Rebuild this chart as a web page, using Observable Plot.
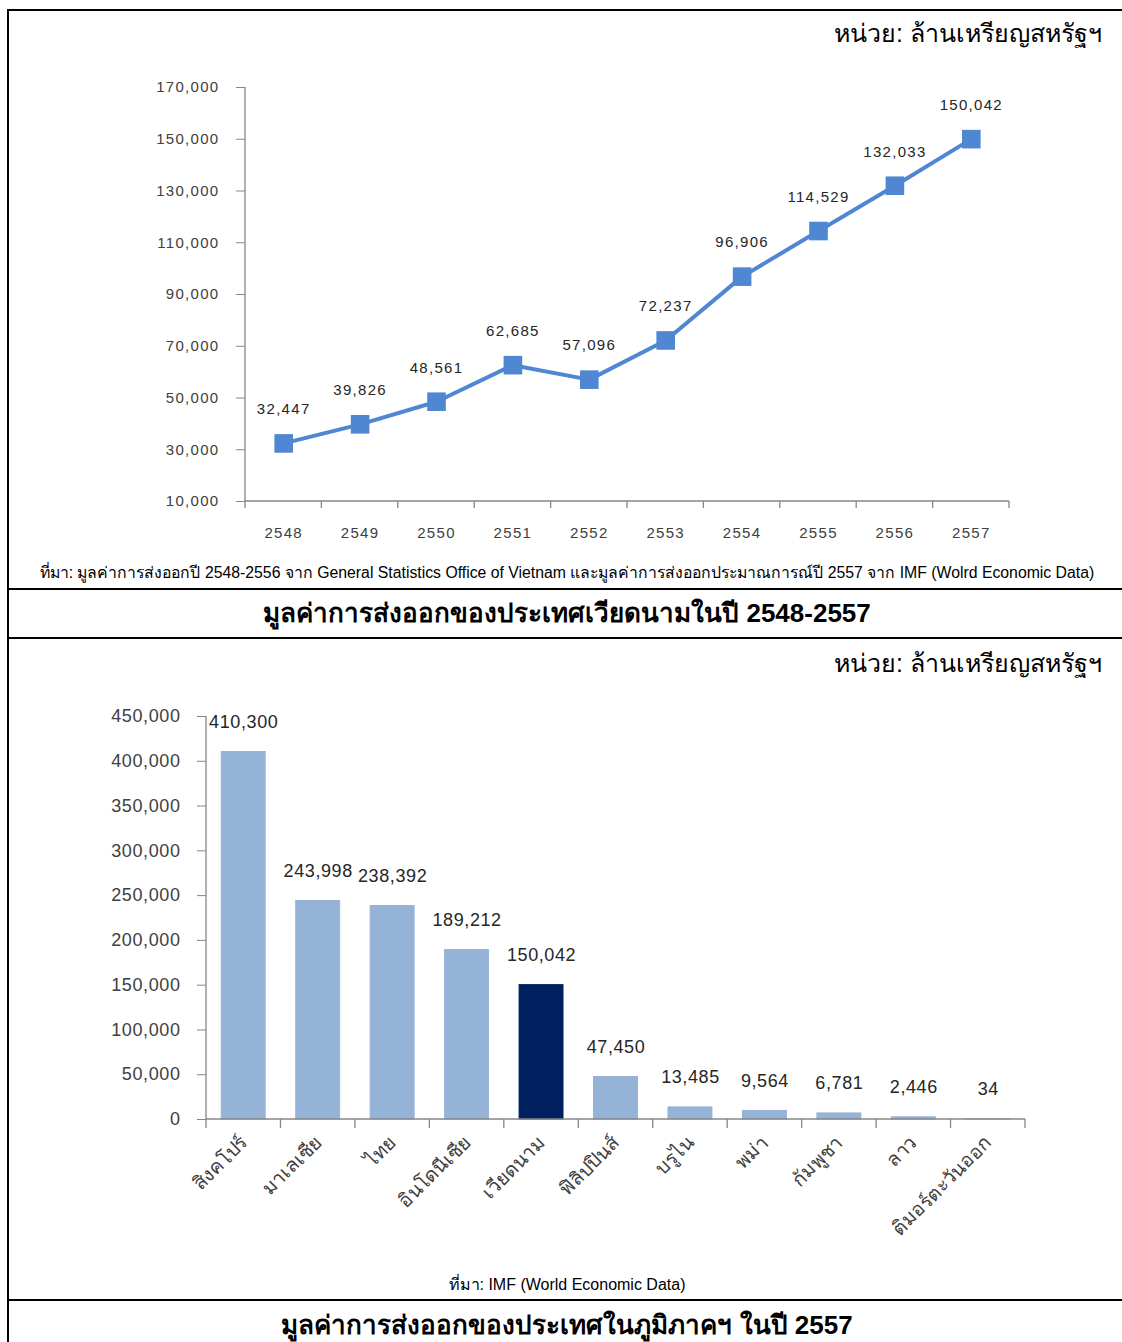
<!DOCTYPE html>
<html><head><meta charset="utf-8">
<script src="https://cdn.jsdelivr.net/npm/d3@7"></script>
<script src="https://cdn.jsdelivr.net/npm/@observablehq/plot@0.6"></script>
<style>
html,body{margin:0;padding:0;overflow:hidden;background:#fff;width:1122px;height:1342px;}
body{position:relative;font-family:"Liberation Sans",Arial,sans-serif;}
.abs{position:absolute;white-space:nowrap;}
.hr{position:absolute;left:7px;width:1200px;height:2px;background:#000;}
.unit{right:20px;font-size:25px;color:#000;line-height:30px;}
.src{left:0;width:1134px;text-align:center;font-size:15.8px;color:#000;line-height:20px;}
.title{left:0;width:1134px;text-align:center;font-size:26px;font-weight:bold;color:#000;line-height:30px;}
svg{position:absolute;left:0;}
</style></head><body>
<div class="abs" style="left:7px;top:9px;width:1200px;height:1400px;border-left:2px solid #000;border-top:2px solid #000;box-sizing:border-box"></div>
<div class="hr" style="top:588px"></div>
<div class="hr" style="top:637px"></div>
<div class="hr" style="top:1299px"></div>
<div class="abs unit" style="top:18px">หน่วย: ล้านเหรียญสหรัฐฯ</div>
<div class="abs src" style="top:563px">ที่มา: มูลค่าการส่งออกปี 2548-2556 จาก General Statistics Office of Vietnam และมูลค่าการส่งออกประมาณการณ์ปี 2557 จาก IMF (Wolrd Economic Data)</div>
<div class="abs title" style="top:598px">มูลค่าการส่งออกของประเทศเวียดนามในปี 2548-2557</div>
<div class="abs unit" style="top:648px">หน่วย: ล้านเหรียญสหรัฐฯ</div>
<div class="abs src" style="top:1275px;font-size:16px">ที่มา: IMF (World Economic Data)</div>
<div class="abs title" style="top:1310px">มูลค่าการส่งออกของประเทศในภูมิภาคฯ ในปี 2557</div>
<div id="c1"></div>
<div id="c2"></div>
<script>
// ---- Data ----
const years = ["2548","2549","2550","2551","2552","2553","2554","2555","2556","2557"];
const vnExports = [32447, 39826, 48561, 62685, 57096, 72237, 96906, 114529, 132033, 150042];
const yTicks1 = [10000, 30000, 50000, 70000, 90000, 110000, 130000, 150000, 170000];

const countries = ["สิงคโปร์","มาเลเซีย","ไทย","อินโดนีเซีย","เวียดนาม","ฟิลิปปินส์","บรูไน","พม่า","กัมพูชา","ลาว","ติมอร์ตะวันออก"];
const exports2557 = [410300, 243998, 238392, 189212, 150042, 47450, 13485, 9564, 6781, 2446, 34];
const yTicks2 = [0, 50000, 100000, 150000, 200000, 250000, 300000, 350000, 400000, 450000];
const highlight = "เวียดนาม";

const lineData = years.map((y, i) => ({year: y, value: vnExports[i]}));
const barData = countries.map((c, i) => ({country: c, value: exports2557[i], group: c === highlight ? "vn" : "other"}));

const fmt = d3.format(",");
const lineBlue = "#4F87D3";
const axisGray = "#868686";
const font = "Liberation Sans, Arial, sans-serif";

function decorate(plot, tickLen) {
  const x = plot.scale("x"), y = plot.scale("y");
  const svg = d3.select(plot);
  const gap = (x.step - x.bandwidth) / 2;
  const last = x.domain[x.domain.length - 1];
  const bounds = x.domain.map(d => x.apply(d) - gap).concat([x.apply(last) + x.bandwidth + gap]);
  const y0 = Math.max(...y.range), y1 = Math.min(...y.range);
  const g = svg.append("g").attr("stroke", axisGray).attr("stroke-width", 1.3);
  g.append("line").attr("x1", bounds[0]).attr("x2", bounds[0]).attr("y1", y1).attr("y2", y0);
  g.append("line").attr("x1", bounds[0]).attr("x2", bounds[bounds.length - 1]).attr("y1", y0).attr("y2", y0);
  bounds.forEach(b => g.append("line").attr("x1", b).attr("x2", b).attr("y1", y0).attr("y2", y0 + tickLen));
  svg.selectAll("[aria-label='y-axis tick']").attr("stroke", axisGray);
}

// ---- Chart 1: line ----
const p1 = Plot.plot({
  width: 1122, height: 500,
  marginTop: 27, marginBottom: 59, marginLeft: 245, marginRight: 113,
  style: {fontFamily: font, fontSize: "15px", letterSpacing: "1.3px", color: "#404040", background: "transparent", overflow: "visible"},
  x: {type: "band", domain: years, padding: 0, round: false, tickSize: 0, tickPadding: 26, label: null},
  y: {domain: [10000, 170000], ticks: yTicks1, tickSize: 9, tickPadding: 17, tickFormat: fmt, label: null},
  marks: [
    Plot.line(lineData, {x: "year", y: "value", stroke: lineBlue, strokeWidth: 4}),
    Plot.dot(lineData, {x: "year", y: "value", symbol: "square", r: 10.5, fill: lineBlue, stroke: "none"}),
    Plot.text(lineData, {x: "year", y: "value", text: d => fmt(d.value), dy: -34, fontSize: 15, fill: "#262626"})
  ]
});
p1.style.top = "60px";
decorate(p1, 7);
document.getElementById("c1").appendChild(p1);

// ---- Chart 2: bars ----
const p2 = Plot.plot({
  width: 1122, height: 590,
  marginTop: 26, marginBottom: 161, marginLeft: 206, marginRight: 97,
  style: {fontFamily: font, fontSize: "18px", letterSpacing: "0.6px", color: "#404040", background: "transparent", overflow: "visible"},
  x: {type: "band", domain: countries, paddingInner: 0.41, paddingOuter: 0.205, round: false, tickSize: 0, tickPadding: 20, tickRotate: -45, label: null},
  y: {domain: [0, 450000], ticks: yTicks2, tickSize: 9, tickPadding: 17, tickFormat: fmt, label: null},
  color: {domain: ["other", "vn"], range: ["#95B3D7", "#002060"]},
  marks: [
    Plot.barY(barData, {x: "country", y: "value", fill: "group", stroke: "group", strokeWidth: 1}),
    Plot.text(barData, {x: "country", y: "value", text: d => fmt(d.value), dy: -30, fontSize: 18, fill: "#262626"})
  ]
});
p2.style.top = "690px";
decorate(p2, 9);
d3.select(p2).selectAll("[aria-label='x-axis tick label'] text").style("font-size", "19.5px").style("letter-spacing", "0px");
document.getElementById("c2").appendChild(p2);
</script>
</body></html>
